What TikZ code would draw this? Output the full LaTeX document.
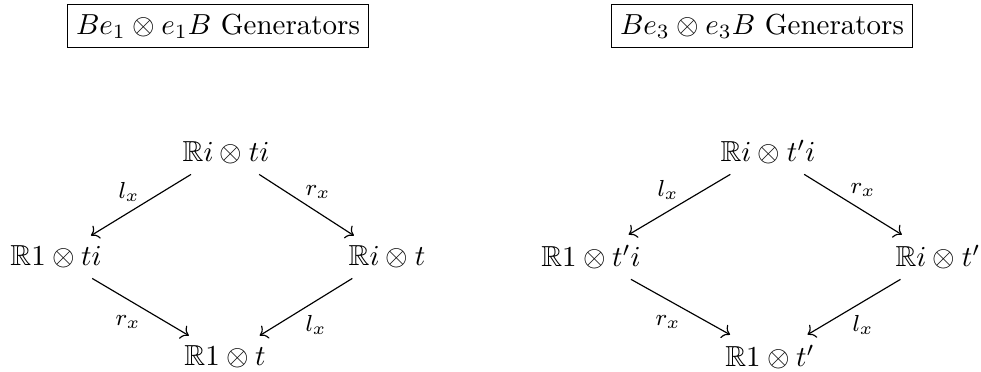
\documentclass[tikz,border=0pt]{standalone}
\usepackage{amssymb}
\usetikzlibrary{arrows.meta}
\begin{document}
\begin{tikzpicture}[x=0.345pt,y=-0.345pt,
  obj/.style={inner sep=3.33pt},
  titlebox/.style={draw,inner sep=3pt,line width=0.4pt},
  mor/.style={->,line width=0.4pt},
  lab/.style={font=\footnotesize,inner sep=1pt}]
\useasboundingbox (0,0) rectangle (981,372);
% titles
\node[titlebox] (t1) at (218,26) {$Be_1\otimes e_1B$ Generators};
\node[titlebox] (t2) at (762,26) {$Be_3\otimes e_3B$ Generators};
% left diagram
\node[obj] (a1) at (226,153) {$\mathbb{R}i\otimes ti$};
\node[obj] (b1) at (56,257) {$\mathbb{R}1\otimes ti$};
\node[obj] (c1) at (387,257) {$\mathbb{R}i\otimes t$};
\node[obj] (d1) at (225,357) {$\mathbb{R}1\otimes t$};
\draw[mor] (a1) -- (b1);
\draw[mor] (a1) -- (c1);
\draw[mor] (b1) -- (d1);
\draw[mor] (c1) -- (d1);
\node[lab] (l1a) at (129,192) {$l_x$};
\node[lab] (l1b) at (318,192) {$r_x$};
\node[lab] (l1c) at (128,322) {$r_x$};
\node[lab] (l1d) at (316,325) {$l_x$};
% right diagram
\node[obj] (a2) at (768,152) {$\mathbb{R}i\otimes t'i$};
\node[obj] (b2) at (591,257) {$\mathbb{R}1\otimes t'i$};
\node[obj] (c2) at (938,257) {$\mathbb{R}i\otimes t'$};
\node[obj] (d2) at (770,357) {$\mathbb{R}1\otimes t'$};
\draw[mor] (a2) -- (b2);
\draw[mor] (a2) -- (c2);
\draw[mor] (b2) -- (d2);
\draw[mor] (c2) -- (d2);
\node[lab] (l2a) at (668,190) {$l_x$};
\node[lab] (l2b) at (863,190) {$r_x$};
\node[lab] (l2c) at (668,322) {$r_x$};
\node[lab] (l2d) at (863,325) {$l_x$};
\end{tikzpicture}
\end{document}
